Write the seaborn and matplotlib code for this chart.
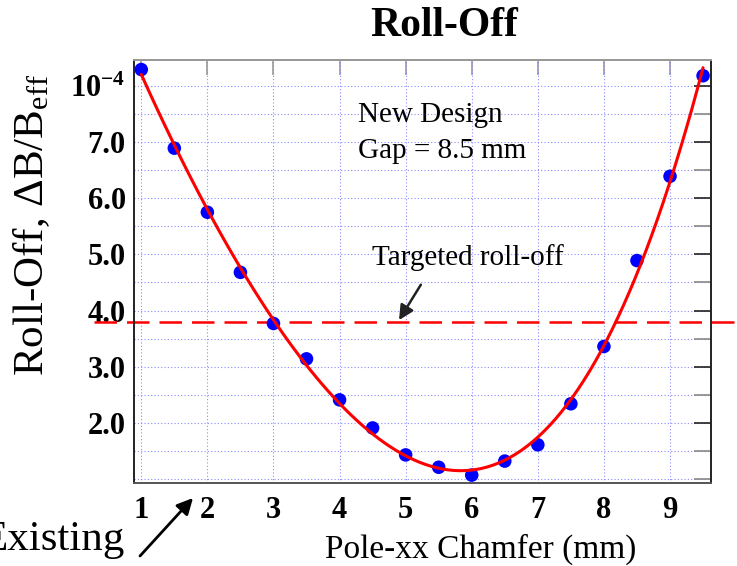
import numpy as np
import pandas as pd
import matplotlib
matplotlib.use("Agg")
import matplotlib.pyplot as plt
from matplotlib.ticker import MultipleLocator, FixedLocator, NullFormatter
import seaborn as sns

# ---- data ----
chamfer_mm = [1.0, 1.5, 2.0, 2.5, 3.0, 3.5, 4.0, 4.5, 5.0, 5.5, 6.0, 6.5, 7.0, 7.5, 8.0, 8.5, 9.0, 9.5]
rolloff_e4 = [8.29, 6.89, 5.75, 4.68, 3.77, 3.14, 2.41, 1.91, 1.43, 1.21, 1.07, 1.32, 1.61, 2.34, 3.36, 4.89, 6.39, 8.18]
target_rolloff = 3.8
x_ticks = [1, 2, 3, 4, 5, 6, 7, 8, 9]
y_ticks = [2, 3, 4, 5, 6, 7, 8]
y_tick_labels = ["2.0", "3.0", "4.0", "5.0", "6.0", "7.0", r"$\mathbf{10^{-4}}$"]

df = pd.DataFrame({"chamfer": chamfer_mm, "rolloff": rolloff_e4})

sns.set_style("white")
plt.rcParams["font.family"] = ["Liberation Serif", "DejaVu Serif"]
plt.rcParams["mathtext.fontset"] = "custom"
plt.rcParams["mathtext.rm"] = "Liberation Serif"
plt.rcParams["mathtext.bf"] = "Liberation Serif:bold"
plt.rcParams["mathtext.it"] = "Liberation Serif:italic"
plt.rcParams["text.color"] = "black"
plt.rcParams["xtick.color"] = "black"
plt.rcParams["ytick.color"] = "black"
plt.rcParams["xtick.labelcolor"] = "black"
plt.rcParams["ytick.labelcolor"] = "black"

W, H = 737, 566
fig = plt.figure(figsize=(W / 100, H / 100), dpi=100)
ax = fig.add_axes([134 / W, 1 - 483 / H, (711 - 134) / W, (483 - 60) / H])

sns.regplot(data=df, x="chamfer", y="rolloff", order=4, ci=None, truncate=True, ax=ax,
            scatter_kws=dict(s=95, color="#0000ff", edgecolors="none", alpha=1, zorder=3),
            line_kws=dict(color="#ff0000", lw=2.2, zorder=4))

ax.axhline(target_rolloff, xmin=-0.069, xmax=1.05, color="#ff0000", lw=1.8,
           dashes=(9, 4), clip_on=False, zorder=2)

ax.set_xlim(0.89, 9.62)
ax.set_ylim(0.93, 8.46)

ax.xaxis.set_major_locator(FixedLocator(x_ticks))
ax.set_xticklabels([str(t) for t in x_ticks])
ax.yaxis.set_major_locator(FixedLocator(y_ticks))
ax.set_yticklabels(y_tick_labels)
ax.yaxis.set_minor_locator(MultipleLocator(0.5))

ax.grid(True, which="major", axis="x", color="#8c8cff", ls=(0, (1, 2)), lw=0.8)
ax.grid(True, which="both", axis="y", color="#8c8cff", ls=(0, (1, 2)), lw=0.8)
ax.set_axisbelow(True)

ax.tick_params(axis="both", which="both", direction="in", top=False, right=True)
ax.tick_params(axis="y", which="major", length=12, width=1.2, color="#222222",
               labelsize=22, pad=6)
ax.tick_params(axis="y", which="minor", length=12, width=1.2, color="#888888")
ax.tick_params(axis="x", which="major", length=13, width=1.2, color="#555555",
               labelsize=22, pad=9)
for lab in ax.get_xticklabels() + ax.get_yticklabels():
    lab.set_fontweight("bold")
    lab.set_color("black")

top = ax.secondary_xaxis("top")
top.xaxis.set_major_locator(FixedLocator(x_ticks))
top.xaxis.set_major_formatter(NullFormatter())
top.tick_params(axis="x", which="both", direction="in", length=11, width=1.2,
                color="#9a9a9a")
top.spines["top"].set_color("#999999")
top.spines["top"].set_linewidth(1.4)

for side in ["left", "bottom", "right"]:
    ax.spines[side].set_color("#222222")
    ax.spines[side].set_linewidth(1.4)
ax.spines["top"].set_color("#999999")
ax.spines["top"].set_linewidth(1.4)
ax.spines["bottom"].set_color("#555555")

ax.set_xlabel("")
ax.set_ylabel("")

# texts
fig.text(444 / W, 1 - 26 / H, "Roll-Off", ha="center", va="center",
         fontsize=30, fontweight="bold")
fig.text(481 / W, 1 - 549 / H, "Pole-xx Chamfer (mm)", ha="center", va="center",
         fontsize=24)
fig.text(32 / W, 1 - 225 / H, r"Roll-Off, ΔB/B$_{\mathrm{eff}}$", ha="center", va="center",
         rotation=90, fontsize=31)

ax.text(4.28, 7.356, "New Design", fontsize=21, ha="left", va="baseline")
ax.text(4.28, 6.715, "Gap = 8.5 mm", fontsize=21, ha="left", va="baseline")
ax.text(4.49, 4.81, "Targeted roll-off", fontsize=21, ha="left", va="baseline")
ax.annotate("", xy=(4.90, 3.83), xytext=(5.23, 4.46),
            arrowprops=dict(arrowstyle="-|>", color="#222222", lw=1.8,
                            mutation_scale=22, shrinkA=0, shrinkB=0))

fig.text(125 / W, 1 - 550 / H, "Existing", fontsize=31, ha="right", va="baseline")
ax.annotate("", xy=(193 / W, 1 - 498 / H), xytext=(140 / W, 1 - 556 / H),
            xycoords="figure fraction", textcoords="figure fraction",
            arrowprops=dict(arrowstyle="-|>", color="black", lw=2.0,
                            mutation_scale=24, shrinkA=0, shrinkB=0),
            annotation_clip=False)

fig.savefig("out.png", dpi=100)
